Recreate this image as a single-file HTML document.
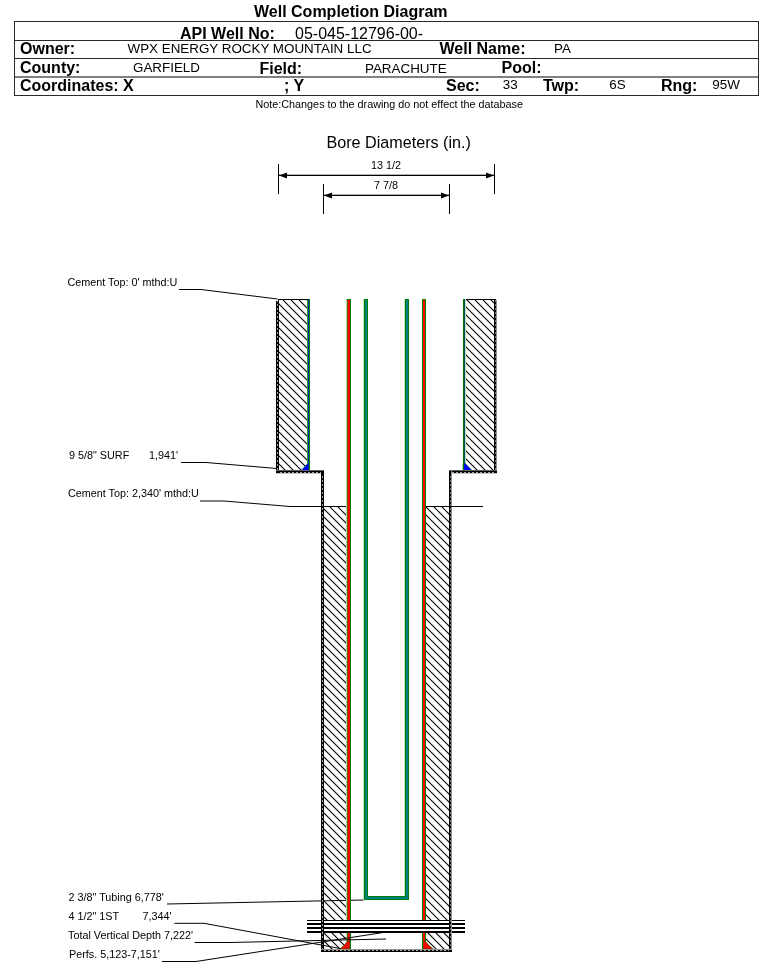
<!DOCTYPE html>
<html><head><meta charset="utf-8">
<style>
html,body{margin:0;padding:0;background:#fff;width:759px;height:962px;overflow:hidden}
svg{display:block;will-change:transform}
text{font-family:"Liberation Sans",sans-serif;fill:#000}
.b{font-weight:bold}
</style></head><body>
<svg width="759" height="962" viewBox="0 0 759 962">
<defs>
<pattern id="hatch" patternUnits="userSpaceOnUse" width="8" height="8" x="-1" y="0">
<path d="M-1,-1 L9,9 M-9,-1 L1,9 M7,-1 L17,9" stroke="#000" stroke-width="1.1" fill="none"/>
</pattern>
<pattern id="dv" patternUnits="userSpaceOnUse" width="1" height="4"><rect x="0" y="0" width="1" height="2" fill="#a8a8a8"/></pattern>
<pattern id="dv2" patternUnits="userSpaceOnUse" width="1" height="4"><rect x="0" y="0" width="1" height="2" fill="#707070"/></pattern>
<pattern id="dh" patternUnits="userSpaceOnUse" width="4" height="1"><rect x="0" y="0" width="2" height="1" fill="#a8a8a8"/></pattern>
</defs>
<!-- Title -->
<text x="254" y="17" class="b" font-size="16">Well Completion Diagram</text>
<!-- table -->
<g shape-rendering="crispEdges" fill="#2a2a2a">
<rect x="14" y="21" width="745" height="1"/>
<rect x="14" y="40" width="745" height="1"/>
<rect x="14" y="58" width="745" height="1"/>
<rect x="14" y="76" width="745" height="2" fill="#808080"/>
<rect x="14" y="95" width="745" height="1"/>
<rect x="14" y="21" width="1" height="75"/>
<rect x="758" y="21" width="1" height="75"/>
</g>
<text x="180" y="38.5" class="b" font-size="16">API Well No:</text>
<text x="295" y="38.5" font-size="16">05-045-12796-00-</text>
<text x="20" y="54" class="b" font-size="16">Owner:</text>
<text x="127.5" y="52.5" font-size="13.4">WPX ENERGY ROCKY MOUNTAIN LLC</text>
<text x="439.5" y="54" class="b" font-size="16">Well Name:</text>
<text x="554" y="52.5" font-size="13.4">PA</text>
<text x="20" y="72.5" class="b" font-size="16">County:</text>
<text x="133" y="71.5" font-size="13.4">GARFIELD</text>
<text x="259.5" y="73.5" class="b" font-size="16">Field:</text>
<text x="365" y="73" font-size="13.4">PARACHUTE</text>
<text x="501.5" y="72.5" class="b" font-size="16">Pool:</text>
<text x="20" y="90.5" class="b" font-size="16">Coordinates: X</text>
<text x="284" y="90.5" class="b" font-size="16">; Y</text>
<text x="446" y="90.5" class="b" font-size="16">Sec:</text>
<text x="502.7" y="89.2" font-size="13.4">33</text>
<text x="543" y="90.5" class="b" font-size="16">Twp:</text>
<text x="609.3" y="89.2" font-size="13.4">6S</text>
<text x="661" y="90.5" class="b" font-size="16">Rng:</text>
<text x="712.3" y="89.2" font-size="13.4">95W</text>

<text x="255.5" y="108" font-size="10.8">Note:Changes to the drawing do not effect the database</text>
<text x="326.5" y="148.3" font-size="16.15">Bore Diameters (in.)</text>

<!-- dimension lines -->
<text x="371" y="169" font-size="10.8">13 1/2</text>
<text x="374" y="189" font-size="10.8">7 7/8</text>
<g shape-rendering="crispEdges" fill="#000">
<rect x="278" y="164" width="1" height="30"/>
<rect x="494" y="164" width="1" height="30"/>
<rect x="279" y="175" width="215" height="1"/>
<rect x="279" y="174" width="215" height="1" fill="#b0b0b0"/>
<rect x="323" y="184" width="1" height="30"/>
<rect x="449" y="184" width="1" height="30"/>
<rect x="324" y="195" width="125" height="1"/>
<rect x="324" y="194" width="125" height="1" fill="#b0b0b0"/>
</g>
<path d="M279,175.5 L287,172.5 L287,178.5 Z M494,175.5 L486,172.5 L486,178.5 Z" fill="#000"/>
<path d="M324,195.5 L332,192.5 L332,198.5 Z M449,195.5 L441,192.5 L441,198.5 Z" fill="#000"/>

<!-- cement hatch -->
<rect x="279" y="300" width="28" height="170" fill="url(#hatch)"/>
<rect x="466" y="300" width="28" height="170" fill="url(#hatch)"/>
<rect x="324" y="507" width="22" height="442" fill="url(#hatch)"/>
<rect x="426" y="507" width="23" height="442" fill="url(#hatch)"/>

<!-- surface casing -->
<g shape-rendering="crispEdges">
<rect x="307" y="299" width="1" height="172" fill="#3a9a3a"/>
<rect x="308" y="299" width="1" height="172" fill="#0030a0"/>
<rect x="309" y="299" width="1" height="172" fill="#008000"/>
<rect x="463" y="299" width="1" height="172" fill="#007000"/>
<rect x="464" y="299" width="1" height="172" fill="#005060"/>
<rect x="465" y="299" width="1" height="172" fill="#b0e0b0"/>
</g>


<path d="M300.8,470.8 L307.6,463.6 L309,463.6 L309,470.8 Z" fill="#0000ff" stroke="#008000" stroke-width="0.6"/>
<path d="M472.3,470.8 L465.4,463.6 L463,463.6 L463,470.8 Z" fill="#0000ff" stroke="#008000" stroke-width="0.6"/>
<rect x="463" y="463" width="1" height="8" fill="#007000" shape-rendering="crispEdges"/>
<rect x="309" y="463" width="1" height="8" fill="#008000" shape-rendering="crispEdges"/>
<path d="M167,904 L364,900" fill="none" stroke="#000" stroke-width="1"/>
<!-- production casing -->
<g shape-rendering="crispEdges">
<rect x="346" y="299" width="1" height="650" fill="#a8d8a8"/>
<rect x="347" y="299" width="1" height="650" fill="#7a5a00"/>
<rect x="348" y="300" width="2" height="649" fill="#ff0000"/>
<rect x="347" y="299" width="4" height="1" fill="#008000"/>
<rect x="350" y="299" width="1" height="650" fill="#008000"/>
<rect x="422" y="299" width="1" height="650" fill="#008000"/>
<rect x="423" y="300" width="2" height="649" fill="#ff0000"/>
<rect x="422" y="299" width="4" height="1" fill="#008000"/>
<rect x="425" y="299" width="1" height="650" fill="#008000"/>
</g>
<path d="M339.8,949 Q345,945 347.2,941.4 L350,941.4 L350,949 Z" fill="#ff0000" stroke="#008000" stroke-width="0.6"/>
<path d="M433.2,949 Q428,945 425.8,941.4 L423,941.4 L423,949 Z" fill="#ff0000" stroke="#008000" stroke-width="0.6"/>
<g shape-rendering="crispEdges"><rect x="350" y="941" width="1" height="8" fill="#008000"/><rect x="422" y="941" width="1" height="8" fill="#008000"/></g>

<!-- tubing -->
<g shape-rendering="crispEdges">
<path d="M364,299 H368 V896 H405 V299 H409 V900 H364 Z" fill="#008000"/>
<path d="M365,300 H367 V897 H406 V300 H408 V899 H365 Z" fill="#008080"/>
<rect x="363" y="299" width="1" height="601" fill="#c0e0c0"/>
<rect x="404" y="299" width="1" height="597" fill="#c8e4c8"/>
</g>

<!-- perfs -->
<g shape-rendering="crispEdges">
<rect x="307" y="921" width="158" height="10" fill="#fff"/>
<rect x="307" y="920" width="158" height="1" fill="#000"/>
<rect x="307" y="923" width="158" height="2" fill="#000"/>
<rect x="307" y="927" width="158" height="2" fill="#000"/>
<rect x="307" y="931" width="158" height="2" fill="#000"/>
</g>

<!-- walls -->
<g shape-rendering="crispEdges">
<rect x="278" y="299" width="30" height="1" fill="#000"/>
<rect x="466" y="299" width="29" height="1" fill="#000"/>
<rect x="276" y="301" width="3" height="172" fill="#000"/>
<rect x="277" y="301" width="1" height="170" fill="url(#dv)"/>
<rect x="278" y="299" width="1" height="2" fill="#000"/>
<rect x="494" y="299" width="2" height="173" fill="#000"/>
<rect x="495" y="300" width="1" height="170" fill="url(#dv2)"/>
<rect x="496" y="300" width="1" height="173" fill="#909090"/>
<rect x="276" y="470" width="48" height="1" fill="#606060"/>
<rect x="276" y="471" width="48" height="2" fill="#000"/>
<rect x="279" y="472" width="42" height="1" fill="url(#dh)"/>
<rect x="276" y="473" width="48" height="1" fill="#c8c8c8"/>
<rect x="449" y="470" width="48" height="1" fill="#606060"/>
<rect x="449" y="471" width="48" height="2" fill="#000"/>
<rect x="452" y="472" width="42" height="1" fill="url(#dh)"/>
<rect x="452" y="473" width="45" height="1" fill="#c8c8c8"/>
<rect x="321" y="471" width="3" height="481" fill="#000"/>
<rect x="322" y="474" width="1" height="475" fill="url(#dv)"/>
<rect x="449" y="471" width="2" height="481" fill="#000"/>
<rect x="450" y="474" width="1" height="475" fill="url(#dv2)"/>
<rect x="451" y="471" width="1" height="481" fill="#909090"/>
<rect x="321" y="949" width="131" height="1" fill="#909090"/>
<rect x="321" y="950" width="131" height="2" fill="#000"/>
<rect x="324" y="950" width="125" height="1" fill="url(#dh)"/>
<!-- cement top line 2 -->
<rect x="290" y="506" width="56" height="1" fill="#000"/>
<rect x="426" y="506" width="57" height="1" fill="#000"/>
</g>

<!-- labels -->
<g font-size="10.8">
<text x="67.5" y="286">Cement Top: 0' mthd:U</text>
<text x="69" y="459">9 5/8" SURF</text>
<text x="149" y="459">1,941'</text>
<text x="68" y="497">Cement Top: 2,340' mthd:U</text>
<text x="68.5" y="900.6">2 3/8" Tubing 6,778'</text>
<text x="68.5" y="919.5">4 1/2" 1ST</text>
<text x="142.5" y="919.5">7,344'</text>
<text x="68" y="939">Total Vertical Depth 7,222'</text>
<text x="69" y="958">Perfs. 5,123-7,151'</text>
</g>
<g fill="none" stroke="#000" stroke-width="1">
<path d="M179,289.5 H201 L277.5,299"/>
<path d="M181,462.5 H206 L277,468.5"/>
<path d="M200,501 H224 L290,506.5"/>
<path d="M174.5,923.3 H204 L340,948.5"/>
<path d="M194.5,942.5 H230 L386,939"/>
<path d="M162,961.5 H196 L384.5,932.3"/>
</g>
</svg>
</body></html>
